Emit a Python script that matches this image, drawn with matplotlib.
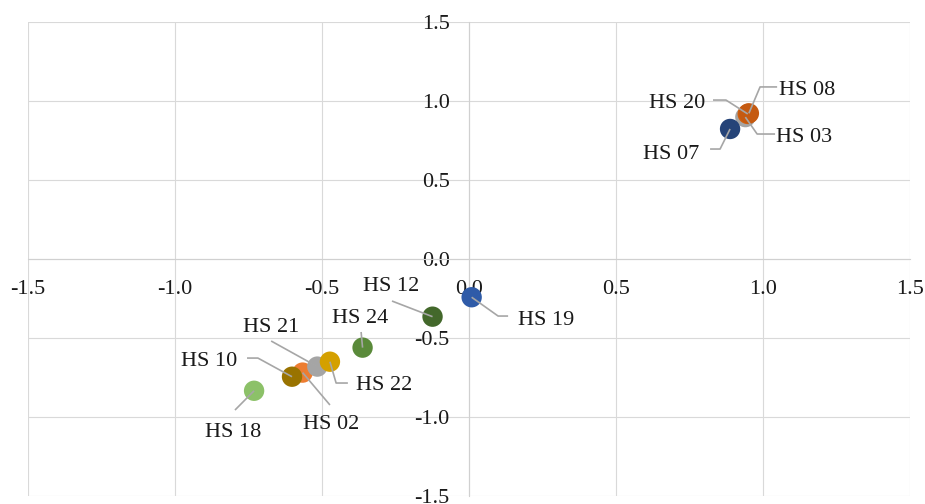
import matplotlib
matplotlib.use("Agg")
import matplotlib.pyplot as plt

plt.rcParams['font.family'] = ['Liberation Serif', 'DejaVu Serif']

# data
names = ['HS 03', 'HS 20', 'HS 08', 'HS 07', 'HS 19', 'HS 12', 'HS 24',
         'HS 02', 'HS 21', 'HS 22', 'HS 10', 'HS 18']
x_vals = [0.940, 0.948, 0.952, 0.888, 0.009, -0.124, -0.362,
          -0.566, -0.516, -0.473, -0.602, -0.731]
y_vals = [0.898, 0.918, 0.922, 0.823, -0.242, -0.365, -0.561,
          -0.719, -0.681, -0.650, -0.745, -0.834]
colors = ['#A5A5A5', '#D2600F', '#C55A11', '#264478', '#2F5BA8', '#43682B',
          '#5A8A3A', '#ED7D31', '#A5A5A5', '#D4A000', '#997300', '#8CC168']
ticks = [-1.5, -1.0, -0.5, 0.0, 0.5, 1.0, 1.5]
tick_labels = ['-1.5', '-1.0', '-0.5', '0.0', '0.5', '1.0', '1.5']

# label placement: text centre, leader start (next to text), elbow
label_pos = {
    'HS 20': ((0.707, 0.985), (0.830, 1.006), (0.874, 1.006)),
    'HS 08': ((1.150, 1.067), (1.048, 1.089), (0.990, 1.089)),
    'HS 03': ((1.139, 0.770), (1.041, 0.791), (0.980, 0.791)),
    'HS 07': ((0.687, 0.662), (0.820, 0.696), (0.854, 0.696)),
    'HS 19': ((0.262, -0.388), (0.133, -0.361), (0.099, -0.361)),
    'HS 12': ((-0.265, -0.173), (-0.262, -0.266), (-0.262, -0.266)),
    'HS 24': ((-0.371, -0.376), (-0.367, -0.462), (-0.367, -0.462)),
    'HS 21': ((-0.673, -0.433), (-0.673, -0.519), (-0.673, -0.519)),
    'HS 10': ((-0.884, -0.648), (-0.755, -0.627), (-0.718, -0.627)),
    'HS 22': ((-0.289, -0.800), (-0.412, -0.785), (-0.452, -0.785)),
    'HS 02': ((-0.469, -1.047), (-0.473, -0.924), (-0.473, -0.924)),
    'HS 18': ((-0.803, -1.097), (-0.796, -0.956), (-0.796, -0.956)),
}

fig = plt.figure(figsize=(9.25, 5.04), dpi=100)
ax = fig.add_axes([28/925, 8/504, 882/925, 474/504])
ax.set_xlim(-1.5, 1.5)
ax.set_ylim(-1.5, 1.5)

ax.set_xticks(ticks)
ax.set_xticklabels(tick_labels)
ax.set_yticks(ticks)
ax.set_yticklabels(tick_labels)
ax.grid(True, color='#D9D9D9', linewidth=0.8, zorder=0)
ax.set_axisbelow(True)

for s in ['top', 'right']:
    ax.spines[s].set_visible(False)
ax.spines['left'].set_position(('data', 0))
ax.spines['bottom'].set_position(('data', 0))
ax.spines['left'].set_color('#D0D0D0')
ax.spines['bottom'].set_color('#D0D0D0')
ax.spines['left'].set_linewidth(0.8)
ax.spines['bottom'].set_linewidth(0.8)
ax.tick_params(axis='both', length=0, labelsize=16, labelcolor='#1a1a1a')
ax.tick_params(axis='x', pad=15)
ax.tick_params(axis='y', pad=14)

ax.scatter(x_vals, y_vals, s=215, c=colors, edgecolors='none', zorder=3)

for name, px, py in zip(names, x_vals, y_vals):
    (tx, ty), (sx, sy), (ex, ey) = label_pos[name]
    ax.plot([sx, ex, px], [sy, ey, py], color='#A6A6A6', linewidth=1.2,
            zorder=4, solid_capstyle='butt')
    ax.text(tx, ty, name, fontsize=16, color='#1a1a1a', ha='center',
            va='center', zorder=5)

fig.savefig('out.png', dpi=100)
